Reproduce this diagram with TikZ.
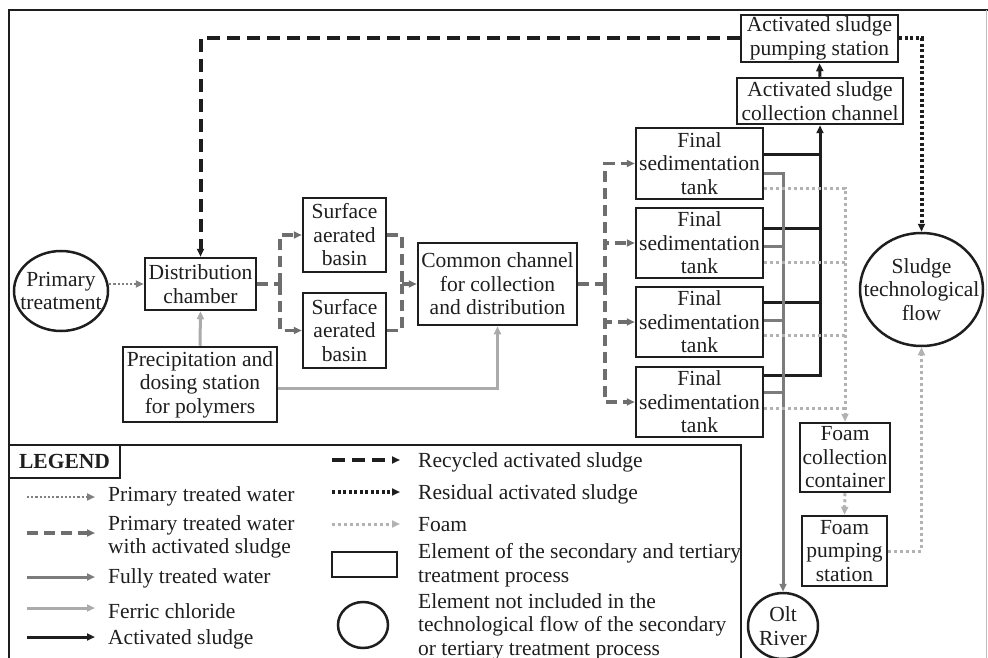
\documentclass[tikz,border=0pt]{standalone}
\usepackage{fontspec}
\setmainfont{Liberation Serif}
\usetikzlibrary{arrows.meta,shapes.geometric}
\definecolor{ink}{HTML}{1E1E1E}
\definecolor{pwsgray}{HTML}{6E6E6E}
\definecolor{ptwgray}{HTML}{808080}
\definecolor{ftwgray}{HTML}{7C7C7C}
\definecolor{fecgray}{HTML}{ABABAB}
\definecolor{foamgray}{HTML}{B2B2B2}
\begin{document}
\begin{tikzpicture}[x=1pt,y=-1pt,
  every node/.style={font=\fontsize{21.5}{23.5}\selectfont, inner sep=0pt, align=center, text=ink},
  box/.style={draw=ink, line width=2.5pt, rectangle},
  oval/.style={draw=ink, line width=2.5pt, ellipse, inner sep=0pt},
  tip/.style={-{Triangle[length=8pt,width=7pt]}},
  ptw/.style={draw=ptwgray, line width=2.6pt, dash pattern=on 2.2pt off 2pt},
  pws/.style={draw=pwsgray, line width=3.4pt, dash pattern=on 11pt off 6pt},
  ftw/.style={draw=ftwgray, line width=3pt},
  fec/.style={draw=fecgray, line width=3pt},
  sl/.style={draw=ink, line width=3pt},
  rec/.style={draw=ink, line width=4pt, dash pattern=on 13pt off 7pt},
  res/.style={draw=ink, line width=4pt, dash pattern=on 3pt off 2.5pt},
  foam/.style={draw=foamgray, line width=3pt, dash pattern=on 3pt off 3pt},
  legtext/.style={anchor=west, align=left}
]
\useasboundingbox (0,0) rectangle (988,658);
% frame
\draw[ink, line width=2.2pt] (9,658) -- (9,10) -- (988,10);
\draw[black!25, line width=1pt] (986,10) -- (986,658);

% nodes
\node[oval, minimum width=94, minimum height=80] (prim) at (61,291) {};
\node at (prim) {Primary\\treatment};
\node[box, minimum width=111, minimum height=52] (dist) at (200.5,284) {Distribution\\chamber};
\node[box, minimum width=83, minimum height=74] (sab1) at (344.5,235) {Surface\\aerated\\basin};
\node[box, minimum width=83, minimum height=75] (sab2) at (344.5,330.5) {Surface\\aerated\\basin};
\node[box, minimum width=159, minimum height=82] (common) at (497.5,284) {Common channel\\for collection\\and distribution};
\node[box, minimum width=154, minimum height=75] (prec) at (200,384.5) {Precipitation and\\dosing station\\for polymers};
\node[box, minimum width=127, minimum height=71] (fst1) at (699.5,163.5) {Final\\sedimentation\\tank};
\node[box, minimum width=127, minimum height=70] (fst2) at (699.5,243) {Final\\sedimentation\\tank};
\node[box, minimum width=127, minimum height=70] (fst3) at (699.5,322) {Final\\sedimentation\\tank};
\node[box, minimum width=127, minimum height=70] (fst4) at (699.5,402) {Final\\sedimentation\\tank};
\node[box, minimum width=166, minimum height=46] (acc) at (820,101) {Activated sludge\\collection channel};
\node[box, minimum width=157, minimum height=47] (asps) at (819.5,38.5) {Activated sludge\\pumping station};
\node[oval, minimum width=123, minimum height=113] (sludge) at (921.5,289.5) {};
\node at (sludge) {Sludge\\technological\\flow};
\node[box, minimum width=90, minimum height=69] (fcc) at (845,457.5) {Foam\\collection\\container};
\node[box, minimum width=85, minimum height=70] (fps) at (844.5,551) {Foam\\pumping\\station};
\node[oval, minimum width=70, minimum height=66] (olt) at (783,626) {};
\node at (olt) {Olt\\River};

% primary treated water
\draw[ptw, tip] (prim.east |- dist.west) -- (dist.west);

% primary treated water with activated sludge
\coordinate (j1) at (280,284);
\coordinate (j2) at (402,284);
\coordinate (j3) at (605,284);
\draw[pws] (dist.east) -- (j1);
\draw[pws, tip] (j1) |- (sab1.west);
\draw[pws, tip] (j1) |- (sab2.west);
\draw[pws] (sab1.east) -| (j2);
\draw[pws] (sab2.east) -| (j2);
\draw[pws, tip] (j2) -- (common.west);
\draw[pws] (common.east) -- (j3);
\draw[pws, tip] (j3) |- (fst1.west);
\draw[pws, tip] (j3) |- (fst2.west);
\draw[pws, tip] (j3) |- (fst3.west);
\draw[pws, tip] (j3) |- (fst4.west);

% ferric chloride
\draw[fec, tip] (prec.north) -- (dist.south);
\draw[fec, tip] ([yshift=-3.5pt]prec.east) -| (common.south);

% activated sludge
\draw[sl, tip] ([yshift=27pt]fst4.east) -| (acc.south);
\draw[sl] ([yshift=8.5pt]fst1.east) -- ++(57,0);
\draw[sl] ([yshift=15pt]fst2.east) -- ++(57,0);
\draw[sl] ([yshift=20pt]fst3.east) -- ++(57,0);
\draw[sl, tip] (acc.north) -- (asps.south);

% recycled activated sludge
\draw[rec, tip] (asps.west) -| (dist.north);
% residual activated sludge
\draw[res, tip] (asps.east) -| (sludge.north);

% fully treated water
\draw[ftw, tip] ([yshift=-9.5pt]fst1.east) -| (olt.north);
\draw[ftw] ([yshift=-3pt]fst2.east) -- ++(20,0);
\draw[ftw] ([yshift=2pt]fst3.east) -- ++(20,0);
\draw[ftw] ([yshift=10pt]fst4.east) -- ++(20,0);

% foam
\draw[foam, tip] ([yshift=-24.5pt]fst1.east) -| (fcc.north);
\draw[foam] ([yshift=-19pt]fst2.east) -- ++(82,0);
\draw[foam] ([yshift=-13pt]fst3.east) -- ++(82,0);
\draw[foam] ([yshift=-6pt]fst4.east) -- ++(82,0);
\draw[foam, tip] (fcc.south) -- (fps.north);
\draw[foam, tip] (fps.east) -| (sludge.south);

% legend
\draw[ink, line width=2.2pt] (9,445) -- (741,445) -- (741,660);
\node[box, minimum width=111, minimum height=33, font=\fontsize{21.5}{23.5}\selectfont\bfseries] (legend) at (64.5,461.5) {LEGEND};

\coordinate (la1) at (27,497);  \coordinate (lb1) at (95,497);
\coordinate (la2) at (27,533);  \coordinate (lb2) at (95,533);
\coordinate (la3) at (27,577);  \coordinate (lb3) at (95,577);
\coordinate (la4) at (27,608);  \coordinate (lb4) at (95,608);
\coordinate (la5) at (27,637);  \coordinate (lb5) at (95,637);
\draw[ptw, tip] (la1) -- (lb1);
\draw[pws, tip] (la2) -- (lb2);
\draw[ftw, tip] (la3) -- (lb3);
\draw[fec, tip] (la4) -- (lb4);
\draw[sl, tip] (la5) -- (lb5);
\node[legtext] (t1) at (108,496) {Primary treated water};
\node[legtext] (t2) at (108,537) {Primary treated water\\with activated sludge};
\node[legtext] (t3) at (108,578) {Fully treated water};
\node[legtext] (t4) at (108,611) {Ferric chloride};
\node[legtext] (t5) at (108,639) {Activated sludge};

\coordinate (ra1) at (332,460);  \coordinate (rb1) at (400,460);
\coordinate (ra2) at (332,492);  \coordinate (rb2) at (400,492);
\coordinate (ra3) at (332,524);  \coordinate (rb3) at (400,524);
\draw[rec, tip] (ra1) -- (rb1);
\draw[res, tip] (ra2) -- (rb2);
\draw[foam, tip] (ra3) -- (rb3);
\node[box, minimum width=65, minimum height=25] (lbox) at (364.5,564.5) {};
\node[oval, minimum width=50, minimum height=46] (lcirc) at (363,625) {};
\node[legtext] (r1) at (418,462) {Recycled activated sludge};
\node[legtext] (r2) at (418,494) {Residual activated sludge};
\node[legtext] (r3) at (418,525) {Foam};
\node[legtext] (r4) at (418,565) {Element of the secondary and tertiary\\treatment process};
\node[legtext] (r5) at (418,626.5) {Element not included in the\\technological flow of the secondary\\or tertiary treatment process};
\end{tikzpicture}
\end{document}
